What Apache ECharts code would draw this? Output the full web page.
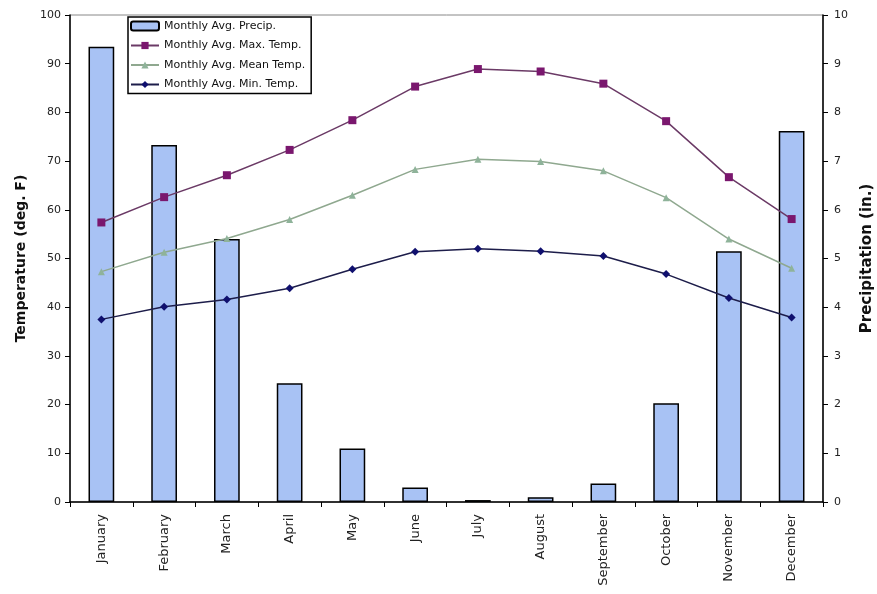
<!DOCTYPE html>
<html><head><meta charset="utf-8">
<script src="https://cdn.jsdelivr.net/npm/echarts@6/dist/echarts.min.js"></script>
<style>html,body{margin:0;padding:0;background:#fff}#c{width:877px;height:594px}</style>
</head><body><div id="c"></div>
<script>
const months = ["January","February","March","April","May","June","July","August","September","October","November","December"];
const precip = [9.35, 7.33, 5.4, 2.44, 1.1, 0.3, 0.04, 0.1, 0.38, 2.03, 5.15, 7.62];
const maxTemp = [57.4, 62.6, 67.1, 72.3, 78.4, 85.3, 88.9, 88.4, 85.9, 78.2, 66.7, 58.1];
const meanTemp = [47.3, 51.3, 54.1, 58.0, 63.0, 68.3, 70.4, 69.9, 68.0, 62.5, 54.0, 48.0];
const minTemp = [37.5, 40.1, 41.6, 43.9, 47.8, 51.4, 52.0, 51.5, 50.5, 46.8, 41.9, 37.9];
const seriesNames = ["Monthly Avg. Precip.","Monthly Avg. Max. Temp.","Monthly Avg. Mean Temp.","Monthly Avg. Min. Temp."];

const font = "DejaVu Sans, Liberation Sans, sans-serif";
const chart = echarts.init(document.getElementById('c'), null, {renderer:'canvas'});
chart.setOption({
  animation:false,
  backgroundColor:'#fff',
  textStyle:{fontFamily:font},
  grid:{left:70,right:54,top:15,bottom:92,show:true,borderColor:'#888',borderWidth:1,
        containLabel:false, outerBoundsMode:'none'},
  legend:{
    orient:'vertical', left:128, top:17, itemGap:5.5, itemWidth:28, itemHeight:9,
    padding:[2,6,2,2], borderColor:'#000', borderWidth:1.5, backgroundColor:'#fff',
    textStyle:{fontFamily:font,fontSize:11,color:'#111',lineHeight:14},
    data:seriesNames
  },
  xAxis:{
    type:'category', data:months, boundaryGap:true,
    axisLine:{lineStyle:{color:'#000',width:1.5}},
    axisTick:{show:true,length:5,lineStyle:{color:'#000'}},
    axisLabel:{rotate:90,fontSize:13,color:'#222',margin:12,fontFamily:font}
  },
  yAxis:[{
    type:'value', min:0, max:100, interval:10,
    name:'Temperature (deg. F)', nameLocation:'middle', nameGap:42, nameRotate:90,
    nameTextStyle:{fontSize:14,fontWeight:'bold',color:'#111',fontFamily:font},
    axisLine:{show:true,lineStyle:{color:'#000',width:1.5}},
    axisTick:{show:true,length:5,lineStyle:{color:'#000'}},
    axisLabel:{fontSize:11,color:'#222',margin:9,fontFamily:font},
    splitLine:{show:false}
  },{
    type:'value', min:0, max:10, interval:1, position:'right',
    name:'Precipitation (in.)', nameLocation:'middle', nameGap:37, nameRotate:90,
    nameTextStyle:{fontSize:15,fontWeight:'bold',color:'#111',fontFamily:font},
    axisLine:{show:true,lineStyle:{color:'#000',width:1.5}},
    axisTick:{show:true,length:5,lineStyle:{color:'#000'}},
    axisLabel:{fontSize:11,color:'#222',margin:11,fontFamily:font},
    splitLine:{show:false}
  }],
  series:[{
    name:seriesNames[0], type:'bar', yAxisIndex:1, data:precip, barWidth:'41%',
    itemStyle:{color:'#a8c2f4',borderColor:'#000',borderWidth:1.5}
  },{
    name:seriesNames[1], type:'line', data:maxTemp, symbol:'rect', symbolSize:8,
    lineStyle:{color:'#6b3a66',width:1.5}, itemStyle:{color:'#7a176e'}
  },{
    name:seriesNames[2], type:'line', data:meanTemp, symbol:'triangle', symbolSize:7,
    lineStyle:{color:'#8fa88f',width:1.5}, itemStyle:{color:'#8fb39a'}
  },{
    name:seriesNames[3], type:'line', data:minTemp, symbol:'diamond', symbolSize:8,
    lineStyle:{color:'#1d1d4a',width:1.5}, itemStyle:{color:'#10106e'}
  }]
});
</script></body></html>
